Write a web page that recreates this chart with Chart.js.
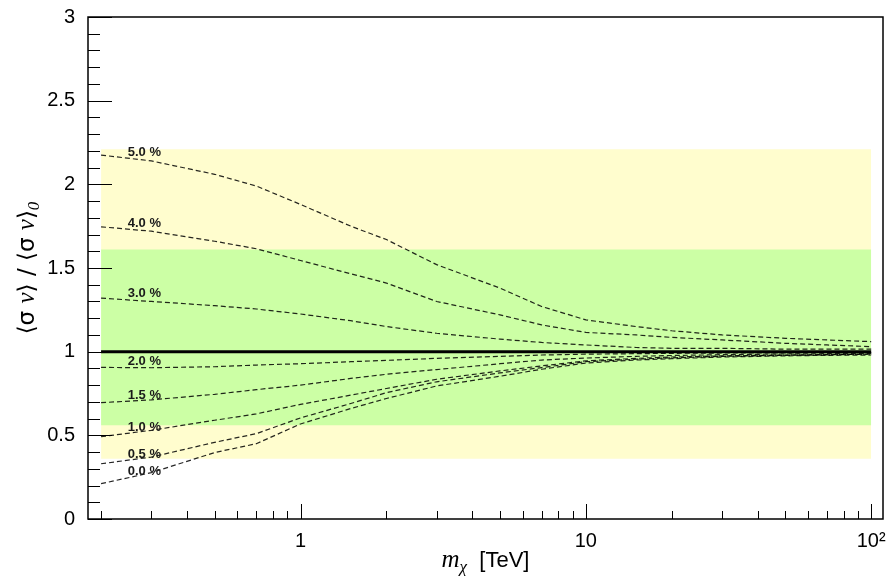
<!DOCTYPE html>
<html>
<head>
<meta charset="utf-8">
<script src="https://cdn.jsdelivr.net/npm/chart.js@4.4.1/dist/chart.umd.min.js"></script>
<style>
  html, body { margin: 0; padding: 0; background: #fff; }
  #wrap { width: 886px; height: 576px; }
</style>
</head>
<body>
<div id="wrap"><canvas id="c" width="886" height="576"></canvas></div>
<script>
// DM mass grid [TeV] and <sigma v>/<sigma v>_0 for each systematic fraction
const masses = [0.2, 0.3, 0.5, 0.7, 1, 1.5, 2, 3, 5, 7, 10, 15, 20, 30, 50, 70, 100];
const ratio50 = [2.175, 2.14, 2.06, 1.99, 1.88, 1.75, 1.67, 1.52, 1.38, 1.27, 1.19, 1.15, 1.125, 1.10, 1.08, 1.07, 1.06];
const ratio40 = [1.746, 1.72, 1.66, 1.615, 1.545, 1.465, 1.41, 1.30, 1.22, 1.16, 1.115, 1.10, 1.085, 1.07, 1.05, 1.04, 1.03];
const ratio30 = [1.32, 1.30, 1.275, 1.255, 1.225, 1.185, 1.15, 1.11, 1.075, 1.055, 1.04, 1.025, 1.02, 1.02, 1.015, 1.015, 1.015];
const ratio20 = [0.906, 0.904, 0.91, 0.92, 0.928, 0.94, 0.948, 0.96, 0.972, 0.98, 0.985, 0.988, 0.99, 0.992, 0.993, 0.994, 0.995];
const ratio15 = [0.695, 0.712, 0.745, 0.773, 0.80, 0.84, 0.865, 0.893, 0.928, 0.95, 0.962, 0.972, 0.977, 0.982, 0.986, 0.988, 0.99];
const ratio10 = [0.492, 0.53, 0.59, 0.628, 0.685, 0.74, 0.78, 0.835, 0.885, 0.915, 0.945, 0.96, 0.968, 0.975, 0.98, 0.983, 0.985];
const ratio05 = [0.33, 0.37, 0.458, 0.51, 0.604, 0.69, 0.755, 0.82, 0.873, 0.905, 0.94, 0.955, 0.963, 0.972, 0.978, 0.981, 0.985];
const ratio00 = [0.211, 0.277, 0.397, 0.45, 0.568, 0.66, 0.72, 0.795, 0.853, 0.895, 0.932, 0.95, 0.958, 0.968, 0.975, 0.978, 0.98];

const curveSeries = [ratio50, ratio40, ratio30, ratio20, ratio15, ratio10, ratio05, ratio00];
const curveLabels = ['5.0 %', '4.0 %', '3.0 %', '2.0 %', '1.5 %', '1.0 %', '0.5 %', '0.0 %'];

// containment bands and reference value
const bandInner = [0.56, 1.61];
const bandOuter = [0.36, 2.21];
const bandRange = [0.2, 100];
const unity = 1;

const xTicks = [1, 10, 100];
const xTickLabels = ['1', '10', '10\u00B2'];

const xMin = 0.18, xMax = 110;
const labelMass = 0.248;

function flat(v) {
  return bandRange.map(m => ({ x: m, y: v }));
}

function interpLog(series, m) {
  for (let i = 0; i < masses.length - 1; i++) {
    if (m >= masses[i] && m <= masses[i + 1]) {
      const t = (Math.log(m) - Math.log(masses[i])) / (Math.log(masses[i + 1]) - Math.log(masses[i]));
      return series[i] + t * (series[i + 1] - series[i]);
    }
  }
  return series[0];
}

const datasets = [
  { data: flat(bandInner[1]), fill: '+1', backgroundColor: 'rgb(204,255,165)' },
  { data: flat(bandInner[0]), fill: false },
  { data: flat(bandOuter[1]), fill: '+1', backgroundColor: 'rgb(255,253,206)' },
  { data: flat(bandOuter[0]), fill: false },
].map(d => Object.assign(d, { borderColor: 'rgba(0,0,0,0)', borderWidth: 0, pointRadius: 0 }));

datasets.push({
  data: flat(unity),
  borderColor: '#000',
  borderWidth: 3,
  pointRadius: 0,
  fill: false,
});

curveSeries.forEach(s => {
  datasets.push({
    data: masses.map((m, i) => ({ x: m, y: s[i] })),
    borderColor: 'rgba(0,0,0,0.85)',
    borderWidth: 1.2,
    borderDash: [5, 3],
    pointRadius: 0,
    tension: 0,
    fill: false,
  });
});

// rich text: list of [text, font, dy]
function drawRich(ctx, parts, x, y, align) {
  let w = 0;
  parts.forEach(p => { ctx.font = p[1]; w += ctx.measureText(p[0]).width; });
  let cx = align === 'center' ? x - w / 2 : x;
  parts.forEach(p => {
    ctx.font = p[1];
    ctx.fillText(p[0], cx, y + (p[2] || 0));
    cx += ctx.measureText(p[0]).width;
  });
}

const framePlugin = {
  id: 'frame',
  afterDatasetsDraw(chart) {
    const { ctx, chartArea: a } = chart;
    const xs = chart.scales.x, ys = chart.scales.y;
    ctx.save();

    // curve labels
    ctx.fillStyle = '#1a1a1a';
    ctx.font = 'bold 13px "Liberation Sans", Arial, sans-serif';
    ctx.textBaseline = 'middle';
    ctx.textAlign = 'left';
    curveSeries.forEach((s, i) => {
      const px = xs.getPixelForValue(labelMass);
      const py = ys.getPixelForValue(interpLog(s, labelMass)) - 6;
      ctx.fillText(curveLabels[i], px, py);
    });

    // inward tick marks
    ctx.strokeStyle = '#000';
    ctx.lineWidth = 1;
    ctx.beginPath();
    for (let k = 0; k <= 30; k++) {
      const py = Math.round(ys.getPixelForValue(k / 10)) + 0.5;
      const len = k % 5 === 0 ? 24 : 12;
      ctx.moveTo(a.left, py);
      ctx.lineTo(a.left + len, py);
    }
    [0.1, 1, 10].forEach(d => {
      for (let k = 2; k <= 9; k++) {
        const v = k * d;
        if (v < xMin || v > xMax) continue;
        const px = Math.round(xs.getPixelForValue(v)) + 0.5;
        ctx.moveTo(px, a.bottom);
        ctx.lineTo(px, a.bottom - 8);
      }
    });
    xTicks.forEach(v => {
      const px = Math.round(xs.getPixelForValue(v)) + 0.5;
      ctx.moveTo(px, a.bottom);
      ctx.lineTo(px, a.bottom - 15);
    });
    ctx.stroke();

    // frame
    ctx.lineWidth = 1.5;
    ctx.strokeRect(a.left, a.top, a.right - a.left, a.bottom - a.top);
    ctx.restore();
  },
  afterDraw(chart) {
    const { ctx, chartArea: a } = chart;
    const xs = chart.scales.x;
    ctx.save();
    ctx.fillStyle = '#000';
    ctx.textBaseline = 'alphabetic';

    // x tick labels
    ctx.font = '20px "Liberation Sans", Arial, sans-serif';
    ctx.textAlign = 'center';
    xTicks.forEach((v, i) => {
      ctx.fillText(xTickLabels[i], xs.getPixelForValue(v), a.bottom + 28);
    });

    // axis titles
    ctx.textAlign = 'left';
    const sans = '22px "Liberation Sans", Arial, sans-serif';
    const ital = 'italic 25px "Liberation Serif", "Times New Roman", serif';
    const sub = 'italic 17px "Liberation Serif", "Times New Roman", serif';
    drawRich(ctx, [
      ['m', ital, 0],
      ['\u03C7', sub, 5],
      ['  [TeV]', sans, 0],
    ], (a.left + a.right) / 2, a.bottom + 48, 'center');

    const ysans = '23px "DejaVu Sans", "Liberation Sans", sans-serif';
    ctx.translate(34, (a.top + a.bottom) / 2);
    ctx.rotate(-Math.PI / 2);
    drawRich(ctx, [
      ['\u27E8\u03C3 ', ysans, 0],
      ['v', ital, 0],
      ['\u27E9 / \u27E8\u03C3 ', ysans, 0],
      ['v', ital, 0],
      ['\u27E9', ysans, 0],
      ['0', sub, 5],
    ], 0, 0, 'center');
    ctx.restore();
  }
};

new Chart(document.getElementById('c'), {
  type: 'line',
  data: { datasets },
  options: {
    responsive: false,
    animation: false,
    events: [],
    layout: { padding: { top: 13, right: 3, left: 0, bottom: 0 } },
    plugins: {
      legend: { display: false },
      tooltip: { enabled: false },
      filler: { drawTime: 'beforeDatasetsDraw' },
    },
    scales: {
      x: {
        type: 'logarithmic',
        min: xMin,
        max: xMax,
        ticks: { display: false },
        grid: { display: false },
        border: { display: false },
        afterFit: s => { s.height = 57; },
      },
      y: {
        min: 0,
        max: 3,
        ticks: {
          stepSize: 0.5,
          color: '#000',
          padding: 5,
          font: { size: 20, family: '"Liberation Sans", Arial, sans-serif' },
          callback: v => String(v),
        },
        grid: { display: false },
        border: { display: false },
        afterFit: s => { s.width = 88; },
      },
    },
  },
  plugins: [framePlugin],
});
</script>
</body>
</html>
